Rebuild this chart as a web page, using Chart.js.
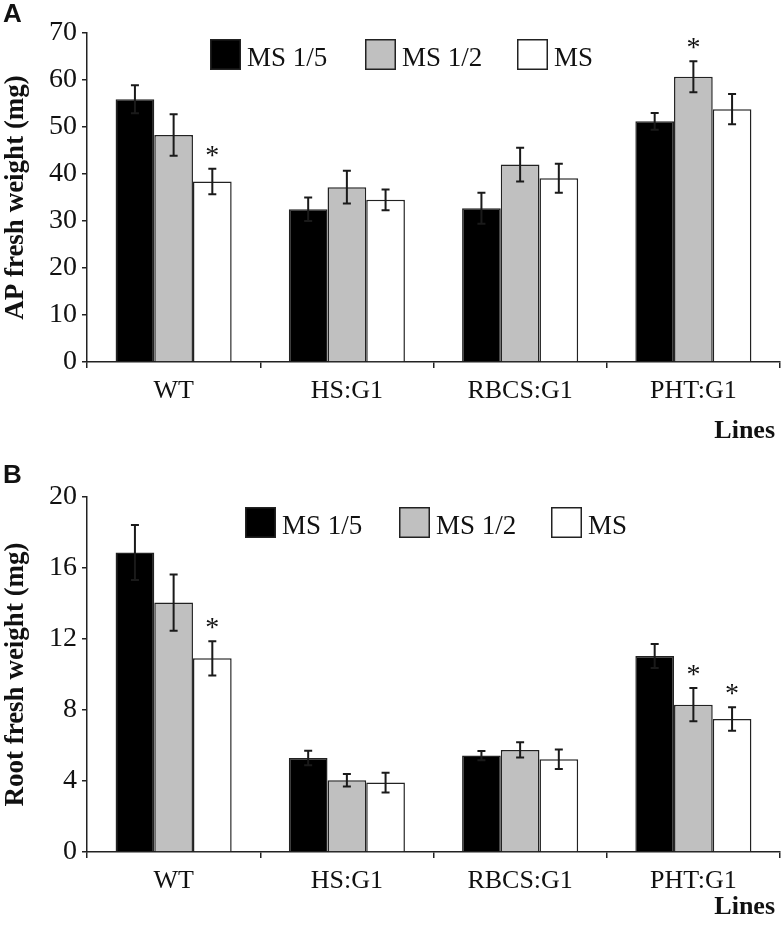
<!DOCTYPE html>
<html>
<head>
<meta charset="utf-8">
<script src="https://cdn.jsdelivr.net/npm/chart.js@4.4.0/dist/chart.umd.min.js"></script>
<style>
  body { margin: 0; background: #fff; }
  .panel { position: relative; width: 783px; }
  #wrapA { height: 450px; }
  #wrapB { height: 476px; }
</style>
</head>
<body>
<div class="panel" id="wrapA"><canvas id="chartA"></canvas></div>
<div class="panel" id="wrapB"><canvas id="chartB"></canvas></div>
<script>
// ---- data ----
const lines = ['WT', 'HS:G1', 'RBCS:G1', 'PHT:G1'];
const seriesNames = ['MS 1/5', 'MS 1/2', 'MS'];

const apMs15 = [55.9, 32.5, 32.7, 51.2];
const apMs15Err = [3.0, 2.5, 3.3, 1.8];
const apMs12 = [48.3, 37.2, 42.0, 60.7];
const apMs12Err = [4.4, 3.5, 3.6, 3.3];
const apMs = [38.4, 34.5, 39.1, 53.8];
const apMsErr = [2.7, 2.2, 3.1, 3.2];
// significance marks: [series index, line index]
const apStars = [[2, 0], [1, 3]];

const rootMs15 = [16.87, 5.30, 5.43, 11.04];
const rootMs15Err = [1.55, 0.41, 0.26, 0.68];
const rootMs12 = [14.05, 4.04, 5.75, 8.30];
const rootMs12Err = [1.58, 0.35, 0.43, 0.94];
const rootMs = [10.91, 3.91, 5.22, 7.49];
const rootMsErr = [0.96, 0.56, 0.55, 0.66];
const rootStars = [[2, 0], [1, 3], [2, 3]];

const apTicks = [0, 10, 20, 30, 40, 50, 60, 70];
const rootTicks = [0, 4, 8, 12, 16, 20];

const fills = ['#000000', '#c0c0c0', '#ffffff'];
const SERIF = '"Liberation Serif", "Times New Roman", serif';

// -------------------------------
// error bars, stars, legend, labels
// -------------------------------
const decorPlugin = {
  id: 'decor',
  afterDatasetsDraw(chart, args, opts) {
    const ctx = chart.ctx;
    const y = chart.scales.y;
    ctx.save();
    // error bars
    ctx.strokeStyle = '#1a1a1a';
    ctx.lineWidth = 2;
    opts.errors.forEach((errs, di) => {
      const meta = chart.getDatasetMeta(di);
      const vals = chart.data.datasets[di].data;
      meta.data.forEach((bar, j) => {
        const yTop = y.getPixelForValue(vals[j] + errs[j]);
        const yBot = y.getPixelForValue(vals[j] - errs[j]);
        ctx.beginPath();
        ctx.moveTo(bar.x, yTop); ctx.lineTo(bar.x, yBot);
        ctx.moveTo(bar.x - 4, yTop); ctx.lineTo(bar.x + 4, yTop);
        ctx.moveTo(bar.x - 4, yBot); ctx.lineTo(bar.x + 4, yBot);
        ctx.stroke();
      });
    });
    // stars
    ctx.fillStyle = '#111';
    ctx.font = '28px ' + SERIF;
    ctx.textAlign = 'center';
    ctx.textBaseline = 'alphabetic';
    opts.stars.forEach(([di, j]) => {
      const bar = chart.getDatasetMeta(di).data[j];
      const v = chart.data.datasets[di].data[j] + opts.errors[di][j];
      ctx.fillText('*', bar.x, y.getPixelForValue(v) - 5);
    });
    // legend
    chart.data.datasets.forEach((ds, i) => {
      const bx = opts.legendX[i], by = opts.legendTop;
      ctx.fillStyle = ds.backgroundColor;
      ctx.fillRect(bx, by, 31, 31);
      ctx.strokeStyle = '#222';
      ctx.lineWidth = 1.5;
      ctx.strokeRect(bx + 0.75, by + 0.75, 29.5, 29.5);
      ctx.fillStyle = '#111';
      ctx.font = '27px ' + SERIF;
      ctx.textAlign = 'left';
      ctx.fillText(ds.label, bx + 37, by + 27);
    });
    // "Lines"
    ctx.font = 'bold 26px ' + SERIF;
    ctx.textAlign = 'right';
    ctx.fillText('Lines', 775, opts.linesY);
    ctx.restore();
  }
};

function makeChart(id, values, errors, stars, ticks, yTitle, layout) {
  const datasets = values.map((vals, i) => ({
    label: seriesNames[i],
    data: vals,
    backgroundColor: fills[i],
    borderColor: '#222',
    borderWidth: 1.5,
    barPercentage: 1.0,
    categoryPercentage: 0.67
  }));
  const ctx = document.getElementById(id).getContext('2d');
  return new Chart(ctx, {
    type: 'bar',
    data: { labels: lines, datasets: datasets },
    options: {
      responsive: true,
      maintainAspectRatio: false,
      animation: false,
      layout: { padding: { left: 0, right: 3, top: layout.top, bottom: 0 } },
      plugins: {
        legend: { display: false },
        tooltip: { enabled: false },
        decor: {
          errors: errors,
          stars: stars,
          legendX: layout.legendX,
          legendTop: layout.legendTop,
          linesY: layout.linesY
        }
      },
      scales: {
        x: {
          grid: { offset: true, drawOnChartArea: false, tickLength: 6, color: '#222', lineWidth: 1.5 },
          border: { color: '#222', width: 1.5 },
          ticks: { color: '#111', font: { family: SERIF, size: 26 }, padding: 8 },
          afterFit: s => { s.height = layout.xHeight; }
        },
        y: {
          min: ticks[0],
          max: ticks[ticks.length - 1],
          afterBuildTicks: s => { s.ticks = ticks.map(v => ({ value: v })); },
          grid: { drawOnChartArea: false, tickLength: 5, color: '#222', lineWidth: 1.5 },
          border: { color: '#222', width: 1.5 },
          ticks: { color: '#111', font: { family: SERIF, size: 28 }, padding: 5 },
          title: {
            display: true,
            text: yTitle,
            color: '#111',
            font: { family: SERIF, size: 27, weight: 'bold' },
            padding: { top: 0, bottom: 0 }
          },
          afterFit: s => { s.width = 87; }
        }
      }
    },
    plugins: [decorPlugin, {
      id: 'panelLetter',
      afterDraw(chart) {
        const c = chart.ctx;
        c.save();
        c.fillStyle = '#111';
        c.font = 'bold 26px "Liberation Sans", Arial, sans-serif';
        c.textAlign = 'left';
        c.textBaseline = 'alphabetic';
        c.fillText(layout.letter, 3, layout.letterY);
        c.restore();
      }
    }]
  });
}

makeChart('chartA',
  [apMs15, apMs12, apMs],
  [apMs15Err, apMs12Err, apMsErr],
  apStars, apTicks, 'AP fresh weight (mg)',
  { top: 33, xHeight: 88, legendX: [210, 365, 517], legendTop: 39, linesY: 438, letter: 'A', letterY: 22 });

makeChart('chartB',
  [rootMs15, rootMs12, rootMs],
  [rootMs15Err, rootMs12Err, rootMsErr],
  rootStars, rootTicks, 'Root fresh weight (mg)',
  { top: 47, xHeight: 74, legendX: [245, 399, 551], legendTop: 57, linesY: 464, letter: 'B', letterY: 33 });
</script>
</body>
</html>
